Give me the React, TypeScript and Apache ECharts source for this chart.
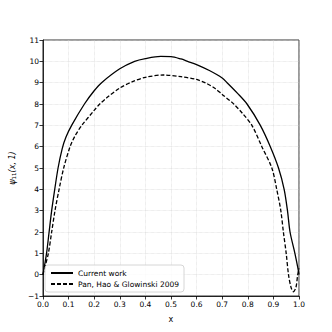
import React, { useEffect, useRef } from "react";
import * as echarts from "echarts";

const currentWork: [number, number][] = [
  [0, 0], [0.014, 1], [0.024, 2], [0.034, 3], [0.046, 4], [0.059, 5], [0.075, 5.9],
  [0.09, 6.45], [0.112, 7], [0.162, 8], [0.2, 8.62], [0.229, 9.0], [0.3, 9.65],
  [0.358, 10.0], [0.4, 10.13], [0.46, 10.23], [0.5, 10.22], [0.539, 10.11],
  [0.565, 10.0], [0.6, 9.85], [0.65, 9.57], [0.7, 9.22], [0.719, 9.0], [0.76, 8.5],
  [0.797, 8.0], [0.849, 7.0], [0.888, 6.0], [0.92, 5.0], [0.942, 4.0], [0.955, 3.0],
  [0.965, 2.0], [0.984, 1.0], [0.995, 0.35], [1.0, 0],
];

const panHaoGlowinski: [number, number][] = [
  [0, 0], [0.021, 1], [0.034, 2], [0.047, 3], [0.063, 4], [0.081, 5], [0.106, 6],
  [0.125, 6.5], [0.152, 7], [0.2, 7.7], [0.222, 8.0], [0.25, 8.3], [0.3, 8.75],
  [0.35, 9.05], [0.4, 9.25], [0.47, 9.36], [0.539, 9.28], [0.6, 9.15], [0.636, 8.98],
  [0.67, 8.75], [0.7, 8.45], [0.745, 8.0], [0.78, 7.55], [0.816, 7.0], [0.855, 6.0],
  [0.894, 5.0], [0.913, 4.0], [0.929, 3.0], [0.939, 2.0], [0.95, 1.0], [0.959, 0],
  [0.969, -0.6], [0.978, -0.8], [0.988, -0.6], [0.995, 0], [1.0, 0.3],
];

const seriesNames = ["Current work", "Pan, Hao & Glowinski 2009"];

const FONT = "DejaVu Sans";

export default function App() {
  const ref = useRef<HTMLDivElement>(null);
  useEffect(() => {
    const chart = echarts.init(ref.current!, null, { renderer: "svg" });
    const minus = (v: number, d: number) => v.toFixed(d).replace("-", "\u2212");
    chart.setOption({
      animation: false,
      backgroundColor: "#ffffff",
      grid: {
        left: 41, top: 40, right: 33, bottom: 36,
        show: true, borderColor: "#000", borderWidth: 0.8, backgroundColor: "transparent",
      },
      legend: {
        left: 45, bottom: 40, orient: "vertical",
        itemWidth: 22, itemHeight: 8, itemGap: 3,
        padding: [4, 5, 4, 5],
        backgroundColor: "rgba(255,255,255,0.8)",
        borderColor: "#cccccc", borderWidth: 0.8, borderRadius: 3,
        textStyle: { fontFamily: FONT, fontSize: 7.5, color: "#000" },
        itemStyle: { opacity: 0 },
        data: seriesNames,
      },
      xAxis: {
        type: "value", min: 0, max: 1, interval: 0.1,
        name: "x", nameLocation: "middle", nameGap: 19,
        nameTextStyle: { fontFamily: FONT, fontSize: 8, color: "#000" },
        axisLine: { show: true, onZero: false, lineStyle: { color: "#000", width: 0.8 } },
        axisTick: { show: true, inside: false, length: 3.5, lineStyle: { color: "#000", width: 0.8 } },
        axisLabel: { fontFamily: FONT, fontSize: 7.5, color: "#000", margin: 4, formatter: (v: number) => minus(v, 1) },
        splitLine: { show: true, lineStyle: { color: "#d0d0d0", width: 0.6, type: "dotted" } },
      },
      yAxis: {
        type: "value", min: -1, max: 11, interval: 1,
        name: "{a|\u03c8}{s|11}{b|(x, 1)}", nameLocation: "middle", nameGap: 12, nameRotate: 90,
        nameTextStyle: {
          fontFamily: FONT, fontSize: 8, color: "#000",
          rich: {
            a: { fontFamily: FONT, fontSize: 8, fontStyle: "italic", color: "#000" },
            s: { fontFamily: FONT, fontSize: 5.5, color: "#000", padding: [4, 0, 0, 0] },
            b: { fontFamily: FONT, fontSize: 8, fontStyle: "italic", color: "#000" },
          },
        },
        axisLine: { show: true, onZero: false, lineStyle: { color: "#000", width: 0.8 } },
        axisTick: { show: true, inside: false, length: 3.5, lineStyle: { color: "#000", width: 0.8 } },
        axisLabel: { fontFamily: FONT, fontSize: 7.5, color: "#000", margin: 4, formatter: (v: number) => minus(v, 0) },
        splitLine: { show: true, lineStyle: { color: "#d0d0d0", width: 0.6, type: "dotted" } },
      },
      series: [
        {
          name: seriesNames[0], type: "line", data: currentWork, symbol: "none", smooth: 0.3,
          lineStyle: { color: "#000", width: 1.3, type: "solid" }, itemStyle: { color: "#000" },
        },
        {
          name: seriesNames[1], type: "line", data: panHaoGlowinski, symbol: "none", smooth: 0.3,
          lineStyle: { color: "#000", width: 1.3, type: [4, 2] }, itemStyle: { color: "#000" },
        },
      ],
    });
    return () => chart.dispose();
  }, []);
  return <div ref={ref} style={{ position: "fixed", left: 0, top: 0, width: 332, height: 332 }} />;
}
